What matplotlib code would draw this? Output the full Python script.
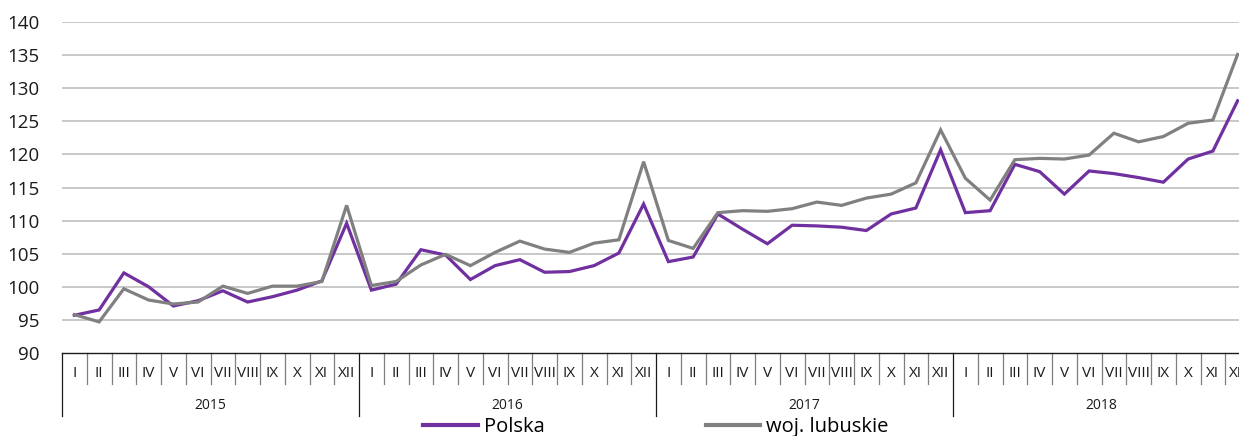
import matplotlib
matplotlib.use("Agg")
import matplotlib.pyplot as plt
from matplotlib.lines import Line2D
import matplotlib.transforms as mtransforms

plt.rcParams['font.family'] = ['Open Sans', 'DejaVu Sans']

years = ["2015", "2016", "2017", "2018"]
months = ["I", "II", "III", "IV", "V", "VI", "VII", "VIII", "IX", "X", "XI", "XII"]

polska = [
    95.7, 96.5, 102.1, 100.0, 97.1, 97.9, 99.4, 97.7, 98.5, 99.5, 100.9, 109.6,
    99.5, 100.4, 105.6, 104.8, 101.1, 103.2, 104.1, 102.2, 102.3, 103.2, 105.1, 112.5,
    103.8, 104.5, 111.0, 108.7, 106.5, 109.3, 109.2, 109.0, 108.5, 111.0, 111.9, 120.7,
    111.2, 111.5, 118.5, 117.4, 114.0, 117.5, 117.1, 116.5, 115.8, 119.3, 120.5, 128.1,
]
lubuskie = [
    95.8, 94.7, 99.7, 98.0, 97.4, 97.7, 100.1, 99.0, 100.1, 100.1, 100.8, 112.3,
    100.2, 100.8, 103.3, 104.9, 103.2, 105.2, 106.9, 105.7, 105.2, 106.6, 107.1, 118.9,
    107.0, 105.8, 111.2, 111.5, 111.4, 111.8, 112.8, 112.3, 113.4, 114.0, 115.7, 123.7,
    116.4, 113.1, 119.2, 119.4, 119.3, 119.9, 123.2, 121.9, 122.7, 124.7, 125.2, 135.1,
]
yticks = [90, 95, 100, 105, 110, 115, 120, 125, 130, 135, 140]
series_names = ["Polska", "woj. lubuskie"]
colors = ["#7030A0", "#808080"]

W, H = 1239, 436
fig = plt.figure(figsize=(W / 100, H / 100), dpi=100)
left, right, top, bottom = 62, 1250, 22, 353
ax = fig.add_axes([left / W, (H - bottom) / H, (right - left) / W, (bottom - top) / H])

n = len(polska)
x = list(range(n))
l1, = ax.plot(x, polska, color=colors[0], lw=2.3, solid_joinstyle='miter', zorder=3)
l2, = ax.plot(x, lubuskie, color=colors[1], lw=2.3, solid_joinstyle='miter', zorder=3)

ax.set_xlim(-0.5, n - 0.5)
ax.set_ylim(90, 140)
ax.set_yticks(yticks)
ax.tick_params(axis='y', length=0, pad=16, labelsize=13.5, labelcolor='#1a1a1a')
for yv in yticks[1:]:
    ax.axhline(yv, color='#BFBFBF', lw=1.2, zorder=1)

for s in ['top', 'right', 'left']:
    ax.spines[s].set_visible(False)
ax.spines['bottom'].set_color('#1a1a1a')
ax.spines['bottom'].set_linewidth(1.0)
ax.set_xticks([])

trans = mtransforms.blended_transform_factory(ax.transData, ax.transAxes)
axh = (bottom - top)
month_bot = -(384 - bottom) / axh
year_bot = -(416 - bottom) / axh
month_y = -(373 - bottom) / axh
year_y = -(405 - bottom) / axh

for i in range(n):
    ax.text(i, month_y, months[i % 12], transform=trans, ha='center', va='center',
            fontsize=11, color='#1a1a1a', clip_on=False)
for i in range(n + 1):
    is_year = (i % 12 == 0)
    yb = year_bot if is_year else month_bot
    ax.add_line(Line2D([i - 0.5, i - 0.5], [0, yb], transform=trans,
                       color='#1a1a1a' if is_year else '#7f7f7f',
                       lw=0.9, clip_on=False))
for k, yr in enumerate(years):
    ax.text(k * 12 + 5.5, year_y, yr, transform=trans, ha='center', va='center',
            fontsize=10, color='#1a1a1a', clip_on=False)

leg = fig.legend([l1, l2], series_names, loc='center', ncol=2,
                 bbox_to_anchor=(656 / W, 9 / H), frameon=False,
                 fontsize=14.5, handlelength=2.7, handletextpad=0.3,
                 columnspacing=8.0, borderpad=0, borderaxespad=0)
for h in leg.legend_handles:
    h.set_linewidth(3)

fig.savefig("out.png", dpi=100)
